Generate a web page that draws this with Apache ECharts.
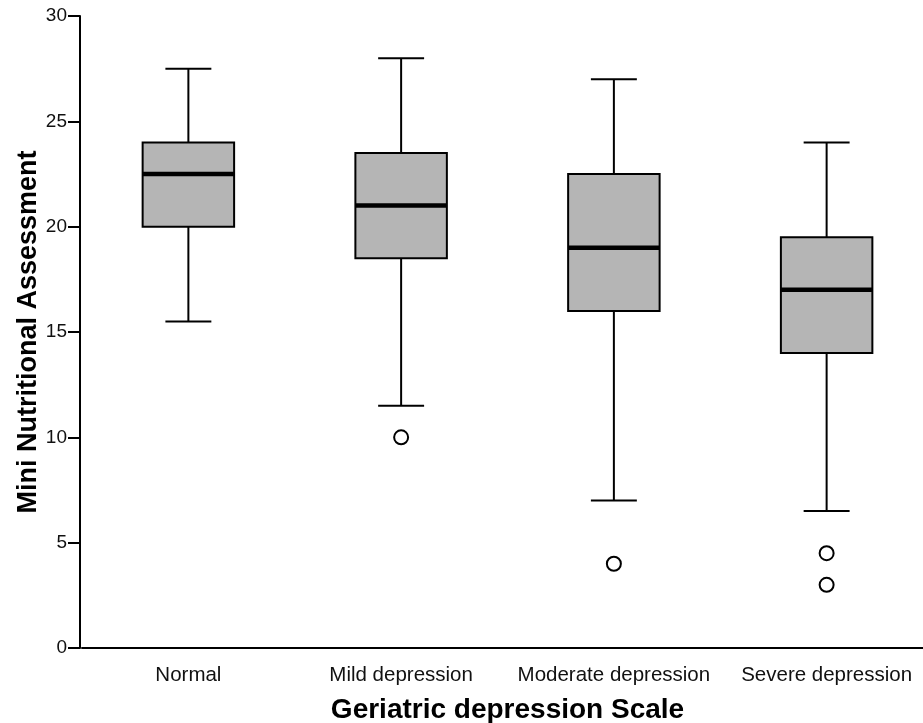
<!DOCTYPE html>
<html><head><meta charset="utf-8">
<script src="https://cdn.jsdelivr.net/npm/echarts@6/dist/echarts.min.js"></script>
<style>html,body{margin:0;padding:0;background:#fff}#c{width:923px;height:723px}</style>
</head><body><div id="c"></div>
<script>
const categories = ['Normal', 'Mild depression', 'Moderate depression', 'Severe depression'];
// [low whisker, Q1, median, Q3, high whisker]
const boxValues = [
  [15.5, 20, 22.5, 24, 27.5],
  [11.5, 18.5, 21, 23.5, 28],
  [7, 16, 19, 22.5, 27],
  [6.5, 14, 17, 19.5, 24]
];
// [category index, value]
const outliers = [[1, 10], [2, 4], [3, 4.5], [3, 3]];
const yTicks = [0, 5, 10, 15, 20, 25, 30];

const chart = echarts.init(document.getElementById('c'));
const boxData = boxValues.map((v, i) => [i].concat(v));

function renderBox(params, api) {
  const idx = api.value(0);
  const lo = api.coord([idx, api.value(1)]);
  const q1 = api.coord([idx, api.value(2)]);
  const md = api.coord([idx, api.value(3)]);
  const q3 = api.coord([idx, api.value(4)]);
  const hi = api.coord([idx, api.value(5)]);
  const band = api.size([1, 0])[0];
  const bw = band * 0.43, cw = band * 0.216;
  const x = lo[0];
  const ls = {stroke: '#000', lineWidth: 2};
  return {
    type: 'group',
    children: [
      {type: 'line', shape: {x1: x, y1: hi[1], x2: x, y2: q3[1]}, style: ls},
      {type: 'line', shape: {x1: x, y1: q1[1], x2: x, y2: lo[1]}, style: ls},
      {type: 'line', shape: {x1: x - cw / 2, y1: hi[1], x2: x + cw / 2, y2: hi[1]}, style: ls},
      {type: 'line', shape: {x1: x - cw / 2, y1: lo[1], x2: x + cw / 2, y2: lo[1]}, style: ls},
      {type: 'rect', shape: {x: x - bw / 2, y: q3[1], width: bw, height: q1[1] - q3[1]},
        style: {fill: '#b5b5b5', stroke: '#000', lineWidth: 2}},
      {type: 'line', shape: {x1: x - bw / 2, y1: md[1], x2: x + bw / 2, y2: md[1]},
        style: {stroke: '#000', lineWidth: 4.5}}
    ]
  };
}

chart.setOption({
  animation: false,
  grid: {left: 82, width: 851, top: 16, bottom: 75, outerBoundsMode: 'none', containLabel: false},
  xAxis: {
    type: 'category', data: categories,
    name: 'Geriatric depression Scale', nameLocation: 'middle', nameGap: 48, nameMoveOverlap: false,
    nameTextStyle: {fontFamily: 'Liberation Sans', fontWeight: 'bold', fontSize: 28, color: '#000'},
    axisLine: {lineStyle: {color: '#000', width: 2}},
    axisTick: {alignWithLabel: true, length: 14, lineStyle: {color: '#000', width: 2}},
    axisLabel: {fontFamily: 'Liberation Sans', fontSize: 20.5, color: '#111', margin: 17, interval: 0}
  },
  yAxis: {
    type: 'value', min: 0, max: 30, interval: 5, offset: 2,
    name: 'Mini Nutritional Assessment', nameLocation: 'middle', nameGap: 38, nameMoveOverlap: false,
    nameTextStyle: {fontFamily: 'Liberation Sans', fontWeight: 'bold', fontSize: 27, color: '#000'},
    axisLine: {show: true, lineStyle: {color: '#000', width: 2}},
    axisTick: {show: true, length: 12, lineStyle: {color: '#000', width: 2}},
    splitLine: {show: false},
    axisLabel: {fontFamily: 'Liberation Sans', fontSize: 19, color: '#111', margin: 13,
      formatter: v => yTicks.includes(v) ? String(v) : ''}
  },
  series: [
    {type: 'custom', data: boxData, renderItem: renderBox, encode: {x: 0, y: [1, 2, 3, 4, 5]}, z: 2},
    {type: 'scatter', data: outliers, symbol: 'circle', symbolSize: 14, z: 3,
      itemStyle: {color: '#fff', borderColor: '#000', borderWidth: 2, opacity: 1}}
  ]
});
</script></body></html>
